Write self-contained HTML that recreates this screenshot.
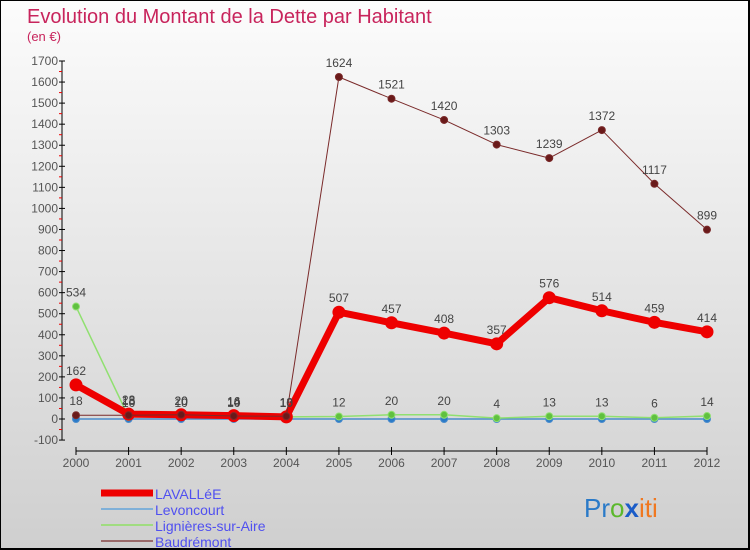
<!DOCTYPE html>
<html><head><meta charset="utf-8"><style>
html,body{margin:0;padding:0}
#chart{width:750px;height:550px;position:relative;overflow:hidden;box-sizing:border-box;border:1px solid #000;border-right:2px solid #000;border-bottom:2px solid #000;background:linear-gradient(#fcfcfc,#cfcfcf);font-family:"Liberation Sans",sans-serif}
svg text{font-family:"Liberation Sans",sans-serif}
</style></head><body>
<div id="chart">
<svg id="svg" width="750" height="550">
<text x="26" y="22" font-size="20" fill="#c8245c">Evolution du Montant de la Dette par Habitant</text>
<text x="26" y="40" font-size="13" fill="#c8245c">(en €)</text>
<g id="axes"></g><g id="series"></g><g id="legend"></g>
<text x="583" y="516" font-size="26"><tspan fill="#2a7ac8">Pr</tspan><tspan fill="#5cb82c">o</tspan><tspan fill="#1a5cc8" font-weight="bold">x</tspan><tspan fill="#f07820">iti</tspan></text>
</svg>
</div>
<script>
const years=[2000,2001,2002,2003,2004,2005,2006,2007,2008,2009,2010,2011,2012];
const yTicks=[-100,0,100,200,300,400,500,600,700,800,900,1000,1100,1200,1300,1400,1500,1600,1700];
const lavallee=[162,23,20,16,10,507,457,408,357,576,514,459,414];
const levoncourt=[0,0,0,0,0,0,0,0,0,0,0,0,0];
const lignieres=[534,10,10,10,10,12,20,20,4,13,13,6,14];
const baudremont=[18,18,20,14,13,1624,1521,1420,1303,1239,1372,1117,899];
const NS='http://www.w3.org/2000/svg';
const X=i=>75+i*(706-75)/12;
const Y=v=>418-v*(418-60)/1700;
function mk(t,a,p){const e=document.createElementNS(NS,t);for(const k in a)e.setAttribute(k,a[k]);p.appendChild(e);return e;}
const ax=document.getElementById('axes');
let yl=mk('line',{x1:61,y1:Y(1700),x2:61,y2:Y(-100),stroke:'#000'},ax);


yTicks.forEach(v=>{
 mk('line',{x1:58,x2:64,y1:Y(v),y2:Y(v),stroke:'#000'},ax);
 if(v<1700){mk('line',{x1:58,x2:61,y1:Y(v+50),y2:Y(v+50),stroke:'#e00'},ax);}
 const t=mk('text',{x:57,y:Y(v)+4,'font-size':12,fill:'#555','text-anchor':'end'},ax);
 t.textContent=v;
 
 
});
let xl=mk('line',{x1:X(0),y1:450,x2:X(12),y2:450,stroke:'#000'},ax);


years.forEach((y,i)=>{
 mk('line',{x1:X(i),x2:X(i),y1:446,y2:454,stroke:'#000'},ax);
 const t=mk('text',{x:X(i),y:466,'font-size':12,fill:'#555','text-anchor':'middle'},ax);
 t.textContent=y;
 
 
});
const sg=document.getElementById('series');
function draw(data,color,w,r,dot,name,labels){
 const g=mk('g',{},sg);
 
 
 const p=mk('polyline',{points:data.map((v,i)=>X(i)+','+Y(v)).join(' '),fill:'none',stroke:color,'stroke-width':w,'stroke-linejoin':'round'},g);
 
 
 data.forEach((v,i)=>{
  const c=mk('circle',{cx:X(i),cy:Y(v),r:r,fill:dot,stroke:color,'stroke-width':1},g);
  
  
  if(labels){const t=mk('text',{x:X(i),y:Y(v)-10,'font-size':12,fill:'#444','text-anchor':'middle'},g);
  t.textContent=v;
  
  }
 });
}
draw(levoncourt,'#4a8ccc',1.5,3.5,'#2a7ac8','levoncourt',false);
draw(lignieres,'#90e070',1.5,3.5,'#60c040','lignieres',true);
draw(lavallee,'#ee0000',7,6,'#ee0000','lavallee',true);
draw(baudremont,'#7a2a2a',1,3.5,'#6a1a1a','baudremont',true);
const lg=document.getElementById('legend');
const names=['LAVALLéE','Levoncourt','Lignières-sur-Aire','Baudrémont'];
const cols=['#ee0000','#7fb0d8','#a0dc80','#9a6a6a'];
const ws=[7,2,2,2];
names.forEach((n,i)=>{
 const y=492+i*16;
 const l=mk('line',{x1:100,x2:152,y1:y,y2:y,stroke:cols[i],'stroke-width':ws[i]},lg);
 
 
 const t=mk('text',{x:154,y:y+6,'font-size':14,fill:'#5050f0'},lg);
 t.textContent=n;
 
 
});
</script>
</body></html>
